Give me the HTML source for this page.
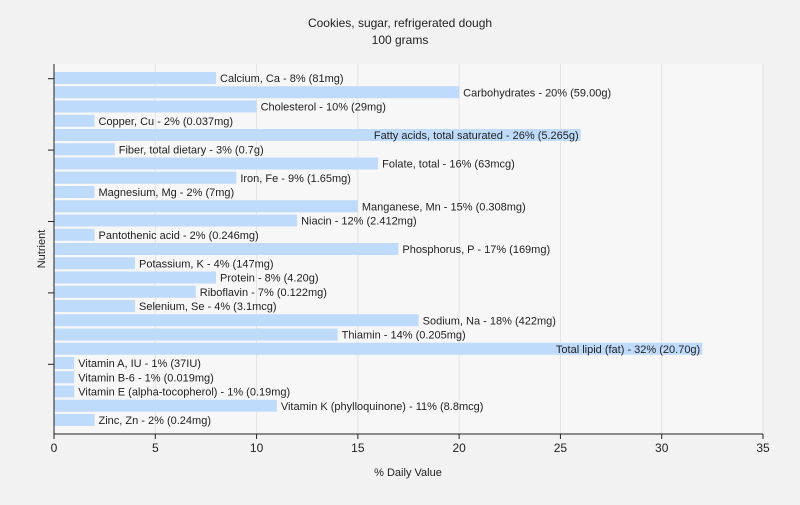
<!DOCTYPE html>
<html><head><meta charset="utf-8"><style>
body{margin:0;background:#f2f2f2;font-family:"Liberation Sans",sans-serif;}
svg text{font-family:"Liberation Sans",sans-serif;}
</style></head><body>
<svg id="c" width="800" height="500" xmlns="http://www.w3.org/2000/svg">
<rect x="0" y="0" width="800" height="500" fill="#f2f2f2"/>
<text x="400" y="27" text-anchor="middle" font-size="12" fill="#222">Cookies, sugar, refrigerated dough</text>
<text x="400" y="44" text-anchor="middle" font-size="12" fill="#222">100 grams</text>
<rect x="54" y="64" width="709" height="370" fill="#f7f7f7"/>
<g id="grid"></g><g id="bars"></g><g id="axes"></g>
<text x="408" y="476" text-anchor="middle" font-size="11" fill="#222">% Daily Value</text>
<text transform="translate(45,249) rotate(-90)" text-anchor="middle" font-size="11" fill="#222">Nutrient</text>
</svg>
<script>
const names=["Calcium, Ca","Carbohydrates","Cholesterol","Copper, Cu","Fatty acids, total saturated","Fiber, total dietary","Folate, total","Iron, Fe","Magnesium, Mg","Manganese, Mn","Niacin","Pantothenic acid","Phosphorus, P","Potassium, K","Protein","Riboflavin","Selenium, Se","Sodium, Na","Thiamin","Total lipid (fat)","Vitamin A, IU","Vitamin B-6","Vitamin E (alpha-tocopherol)","Vitamin K (phylloquinone)","Zinc, Zn"];
const values=[8,20,10,2,26,3,16,9,2,15,12,2,17,4,8,7,4,18,14,32,1,1,1,11,2];
const amounts=["81mg","59.00g","29mg","0.037mg","5.265g","0.7g","63mcg","1.65mg","7mg","0.308mg","2.412mg","0.246mg","169mg","147mg","4.20g","0.122mg","3.1mcg","422mg","0.205mg","20.70g","37IU","0.019mg","0.19mg","8.8mcg","0.24mg"];
const xTicks=[0,5,10,15,20,25,30,35];
const NS="http://www.w3.org/2000/svg";
const x=v=>54+v*(709/35);
const y=i=>78+i*(342/(names.length-1));
function mk(t,a,p){const e=document.createElementNS(NS,t);for(const k in a)e.setAttribute(k,a[k]);p.appendChild(e);return e;}
const grid=document.getElementById('grid'),bars=document.getElementById('bars'),axes=document.getElementById('axes');
xTicks.forEach(t=>{
 if(t>0){const g=mk('line',{x1:x(t),x2:x(t),y1:64,y2:434,stroke:'#e2e2e2'},grid);
 
 }
 const tk=mk('line',{x1:x(t),x2:x(t),y1:434,y2:439,stroke:'#222'},axes);
 
 
 const tl=mk('text',{x:x(t),y:452,'text-anchor':'middle','font-size':12,fill:'#222'},axes);
 tl.textContent=t;
 
 
});
names.forEach((n,i)=>{
 const r=mk('rect',{x:54,y:y(i)-6,width:x(values[i])-54,height:12,fill:'#bfdbfb'},bars);
 
 
 const label=n+' - '+values[i]+'% ('+amounts[i]+')';
 const tx=mk('text',{y:y(i)+4,'font-size':11,fill:'#222'},bars);
 tx.textContent=label;
 const w=tx.getComputedTextLength();
 if(x(values[i])+4+w>763){tx.setAttribute('x',x(values[i])-2);tx.setAttribute('text-anchor','end');}
 else tx.setAttribute('x',x(values[i])+4);
 
 
});
for(let k=0;k<5;k++){const yy=78.7+k*71.4;
 const t=mk('line',{x1:48,x2:54,y1:yy,y2:yy,stroke:'#222'},axes);
 
 }
const ya=mk('line',{x1:54,x2:54,y1:64,y2:434,stroke:'#222'},axes);


const xa=mk('line',{x1:54,x2:763,y1:434,y2:434,stroke:'#222'},axes);


</script>
</body></html>
